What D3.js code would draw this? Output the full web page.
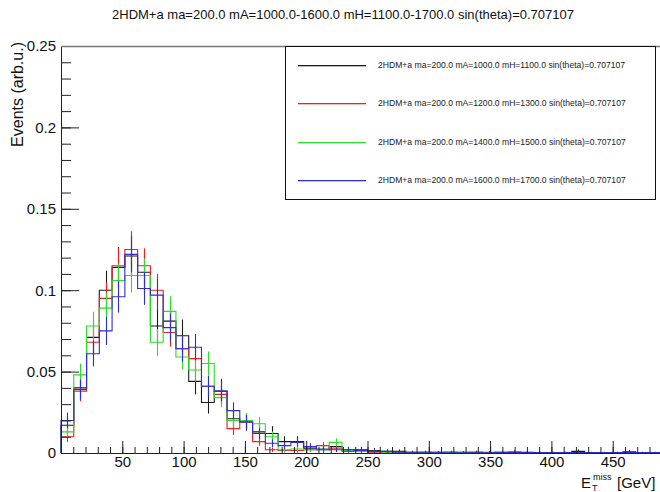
<!DOCTYPE html>
<html>
<head>
<meta charset="utf-8">
<script src="https://cdn.jsdelivr.net/npm/d3@7"></script>
<style>
  body { margin: 0; background: #fff; }
  svg { display: block; font-family: "Liberation Sans", Arial, sans-serif; }
</style>
</head>
<body>
<svg id="chart" width="660" height="492"></svg>
<script>
// Histogram binning: 48 bins over 0-500 GeV
const binRange = [0, 500];
const nBins = 48;

const titleText = "2HDM+a ma=200.0 mA=1000.0-1600.0 mH=1100.0-1700.0 sin(theta)=0.707107";
const yTitle = "Events (arb.u.)";

const yMajorTicks = [0, 0.05, 0.1, 0.15, 0.2, 0.25];
const yTickLabels = ["0", "0.05", "0.1", "0.15", "0.2", "0.25"];
const xMajorTicks = [50, 100, 150, 200, 250, 300, 350, 400, 450];
const xTickLabels = ["50", "100", "150", "200", "250", "300", "350", "400", "450"];

const seriesNames = [
  "2HDM+a ma=200.0 mA=1000.0 mH=1100.0 sin(theta)=0.707107",
  "2HDM+a ma=200.0 mA=1200.0 mH=1300.0 sin(theta)=0.707107",
  "2HDM+a ma=200.0 mA=1400.0 mH=1500.0 sin(theta)=0.707107",
  "2HDM+a ma=200.0 mA=1600.0 mH=1700.0 sin(theta)=0.707107"
];
const seriesColors = ["#1a1a1a", "#ee2020", "#2ddc2d", "#2f2fd0"];

// Normalised bin contents and their errors, one entry per bin
const mA1000 = [0.017,0.040,0.071,0.100,0.114,0.121,0.111,0.078,0.081,0.072,
                0.044,0.031,0.038,0.021,0.019,0.013,0.012,0.007,0.007,0.003,
                0.002,0.004,0.002,0.002,0.0015,0.001,0.001,0.0005,0.0005,0,
                0.0005,0,0.0005,0,0,0.0005,0.0005,0,0,0,
                0.001,0,0,0,0.0008,0,0,0];
const mA1000Err = [0.005,0.0075,0.010,0.012,0.0125,0.013,0.0125,0.0105,0.011,0.010,
                   0.008,0.0068,0.0075,0.0055,0.0053,0.0045,0.0045,0.0033,0.0033,0.0022,
                   0.0018,0.0025,0.0018,0.0018,0.0015,0.0012,0.0012,0.0009,0.0009,0,
                   0.0009,0,0.0009,0,0,0.0009,0.0009,0,0,0,
                   0.0012,0,0,0,0.001,0,0,0];

const mA1200 = [0.010,0.038,0.068,0.095,0.115,0.125,0.115,0.100,0.074,0.064,
                0.058,0.041,0.036,0.015,0.019,0.007,0.002,0.0015,0.0015,0.002,
                0.0045,0.003,0.001,0.001,0.0005,0.0005,0,0,0,0.0005,
                0,0,0,0,0,0.0008,0,0,0,0,
                0,0,0,0,0,0,0,0];
const mA1200Err = [0.0032,0.0062,0.0082,0.0097,0.0107,0.0112,0.0107,0.010,0.0086,0.008,
                   0.0076,0.0064,0.006,0.0039,0.0044,0.0026,0.0014,0.0012,0.0012,0.0014,
                   0.0021,0.0017,0.001,0.001,0.0007,0.0007,0,0,0,0.0007,
                   0,0,0,0,0,0.0009,0,0,0,0,
                   0,0,0,0,0,0,0,0];

const mA1400 = [0.013,0.048,0.078,0.089,0.106,0.109,0.109,0.068,0.087,0.059,
                0.051,0.055,0.034,0.020,0.020,0.018,0.010,0.002,0.0025,0.002,
                0.002,0.0065,0.0015,0.001,0.001,0.0005,0.0005,0,0.0005,0,
                0.0005,0.0005,0,0,0.0008,0,0,0,0,0,
                0,0,0,0,0,0,0,0];
const mA1400Err = [0.0036,0.0069,0.0088,0.0094,0.0103,0.0104,0.0104,0.0082,0.0093,0.0077,
                   0.0071,0.0074,0.0058,0.0045,0.0045,0.0042,0.0032,0.0014,0.0016,0.0014,
                   0.0014,0.0025,0.0012,0.001,0.001,0.0007,0.0007,0,0.0007,0,
                   0.0007,0.0007,0,0,0.0009,0,0,0,0,0,
                   0,0,0,0,0,0,0,0];

const mA1600 = [0.020,0.039,0.061,0.075,0.096,0.122,0.101,0.097,0.077,0.064,
                0.065,0.041,0.038,0.026,0.019,0.012,0.006,0.0045,0.0065,0.004,
                0.0025,0.002,0.002,0.0015,0.001,0.001,0.0005,0.0005,0.0005,0.0005,
                0.0005,0.0005,0.0005,0.0005,0.0003,0.0003,0.0003,0.0003,0.0003,0.0003,
                0.0003,0.0003,0.0003,0.0003,0.0003,0.0003,0.0003,0.0003];
const mA1600Err = [0.0048,0.0062,0.0078,0.0087,0.0098,0.011,0.010,0.0098,0.0088,0.008,
                   0.0081,0.0064,0.0062,0.0051,0.0044,0.0035,0.0024,0.0021,0.0025,0.002,
                   0.0016,0.0014,0.0014,0.0012,0.001,0.001,0.0007,0.0007,0.0007,0.0007,
                   0.0007,0.0007,0.0007,0.0007,0.0005,0.0005,0.0005,0.0005,0.0005,0.0005,
                   0.0005,0.0005,0.0005,0.0005,0.0005,0.0005,0.0005,0.0005];

const seriesValues = [mA1000, mA1200, mA1400, mA1600];
const seriesErrors = [mA1000Err, mA1200Err, mA1400Err, mA1600Err];

// ---- layout ----
const W = 660, H = 492;
const plot = { left: 61, top: 46, bottom: 453 };

const x = d3.scaleLinear().domain(binRange).range([plot.left, 674]);
const y = d3.scaleLinear().domain([0, 0.25]).range([plot.bottom, plot.top]);

const svg = d3.select("#chart");
svg.append("rect").attr("width", W).attr("height", H).attr("fill", "#fff");

const binWidth = (binRange[1] - binRange[0]) / nBins;
const edges = d3.range(nBins + 1).map(i => binRange[0] + i * binWidth);

// ---- histograms ----
const histLayer = svg.append("g");
seriesValues.forEach((vals, s) => {
  const pts = [[edges[0], 0]];
  vals.forEach((v, i) => pts.push([edges[i], v]));
  pts.push([edges[nBins], vals[nBins - 1]]);
  pts.push([edges[nBins], 0]);
  const line = d3.line().x(d => x(d[0])).y(d => y(d[1])).curve(d3.curveStepAfter);
  const g = histLayer.append("g");
  g.append("path")
    .attr("d", line(pts))
    .attr("fill", "none")
    .attr("stroke", seriesColors[s])
    .attr("stroke-width", 1.1);
  const errs = seriesErrors[s];
  g.selectAll("line.err")
    .data(vals.map((v, i) => ({ v, e: errs[i], c: (edges[i] + edges[i + 1]) / 2 }))
               .filter(d => d.e > 0))
    .join("line")
    .attr("class", "err")
    .attr("x1", d => Math.round(x(d.c)) + 0.5)
    .attr("x2", d => Math.round(x(d.c)) + 0.5)
    .attr("y1", d => y(Math.max(0, d.v - d.e)))
    .attr("y2", d => y(d.v + d.e))
    .attr("stroke", seriesColors[s])
    .attr("stroke-width", 1.1);
});

// ---- axes ----
const axisColor = "#222";
const xMinor = svg.append("g").attr("transform", `translate(0,${plot.bottom})`)
  .call(d3.axisBottom(x).tickValues(d3.range(10, 500, 10)).tickSizeInner(-6).tickSizeOuter(0).tickFormat(""));
const xMajor = svg.append("g").attr("transform", `translate(0,${plot.bottom})`)
  .call(d3.axisBottom(x).tickValues(xMajorTicks).tickSizeInner(-12).tickSizeOuter(0).tickPadding(3)
        .tickFormat((d, i) => xTickLabels[i]));
const yMinor = svg.append("g").attr("transform", `translate(${plot.left},0)`)
  .call(d3.axisLeft(y).tickValues(d3.range(0, 0.2501, 0.01)).tickSizeInner(-10).tickSizeOuter(0).tickFormat(""));
const yMajor = svg.append("g").attr("transform", `translate(${plot.left},0)`)
  .call(d3.axisLeft(y).tickValues(yMajorTicks).tickSizeInner(-18).tickSizeOuter(0).tickPadding(5)
        .tickFormat((d, i) => yTickLabels[i]));

[xMinor, xMajor, yMinor, yMajor].forEach(g => {
  g.select(".domain").remove();
  g.selectAll(".tick line").attr("stroke", axisColor);
  g.selectAll(".tick text").attr("font-size", 15).attr("fill", "#111")
    .attr("font-family", "'Liberation Sans', Arial, sans-serif");
});

// axis lines and frame top
svg.append("line").attr("x1", plot.left).attr("x2", W).attr("y1", plot.bottom + 0.5).attr("y2", plot.bottom + 0.5)
  .attr("stroke", axisColor);
svg.append("line").attr("x1", plot.left + 0.5).attr("x2", plot.left + 0.5).attr("y1", plot.top).attr("y2", plot.bottom)
  .attr("stroke", axisColor);
svg.append("line").attr("x1", plot.left).attr("x2", W).attr("y1", plot.top + 0.5).attr("y2", plot.top + 0.5)
  .attr("stroke", "#777").attr("stroke-width", 1.5);

// ---- legend ----
const legend = svg.append("g");
legend.append("rect")
  .attr("x", 285.5).attr("y", plot.top + 0.5).attr("width", 370).attr("height", 153)
  .attr("fill", "#fff").attr("stroke", "#111");
const legendRows = [65, 103, 142, 180];
seriesNames.forEach((name, i) => {
  legend.append("rect").attr("x", 298).attr("width", 68)
    .attr("y", legendRows[i]).attr("height", 1.3)
    .attr("fill", seriesColors[i]);
  legend.append("text").attr("x", 378).attr("y", legendRows[i] + 3.2)
    .attr("font-size", 8.6).attr("fill", "#222").text(name);
});

// ---- titles ----
svg.append("text").attr("x", 343).attr("y", 19).attr("text-anchor", "middle")
  .attr("font-size", 13).attr("fill", "#111").text(titleText);

svg.append("text").attr("transform", "translate(23,42) rotate(-90)")
  .attr("text-anchor", "end").attr("font-size", 16).attr("fill", "#111").text(yTitle);

const xt = svg.append("text").attr("fill", "#111").attr("font-size", 15);
xt.append("tspan").attr("x", 581).attr("y", 488).text("E");
xt.append("tspan").attr("x", 592).attr("y", 491).attr("font-size", 9).text("T");
xt.append("tspan").attr("x", 593).attr("y", 480).attr("font-size", 9).text("miss");
xt.append("tspan").attr("x", 617).attr("y", 488).text("[GeV]");
</script>
</body>
</html>
